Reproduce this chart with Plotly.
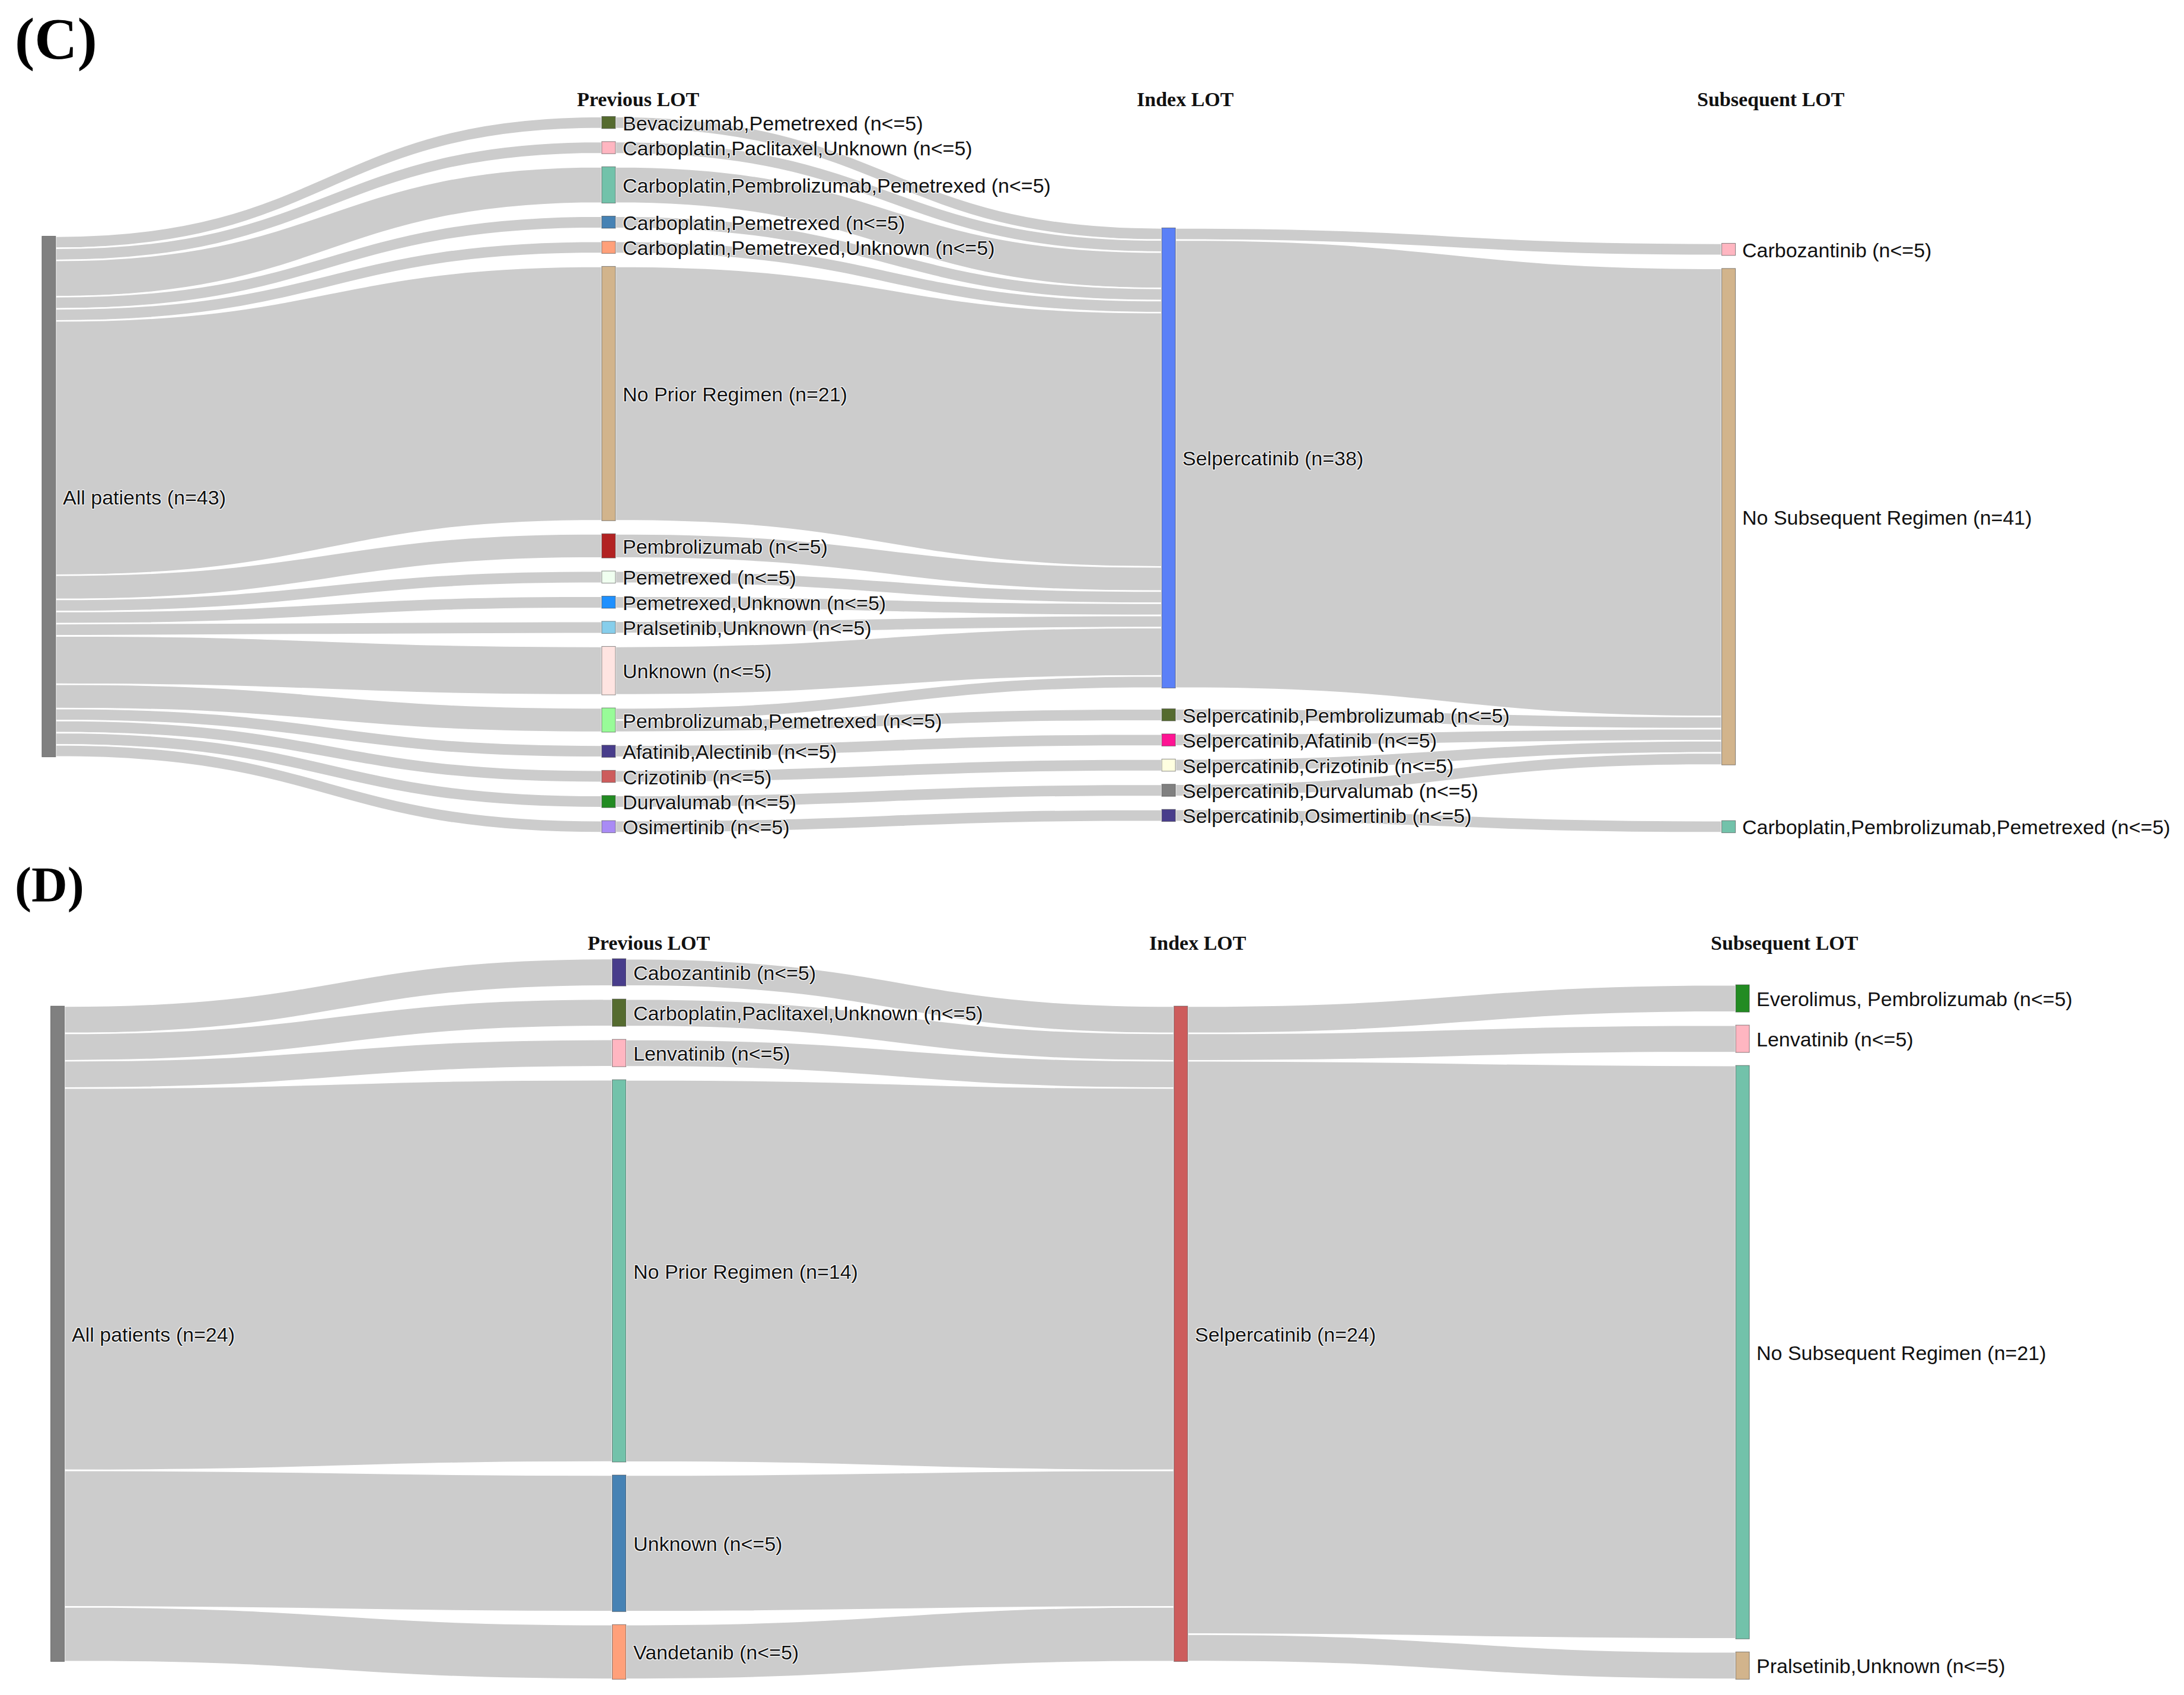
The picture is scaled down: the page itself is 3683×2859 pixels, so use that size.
import plotly.graph_objects as go

# ---------------- Panel C data ----------------
c_labels = [
    "All patients (n=43)",
    "Bevacizumab,Pemetrexed (n<=5)",
    "Carboplatin,Paclitaxel,Unknown (n<=5)",
    "Carboplatin,Pembrolizumab,Pemetrexed (n<=5)",
    "Carboplatin,Pemetrexed (n<=5)",
    "Carboplatin,Pemetrexed,Unknown (n<=5)",
    "No Prior Regimen (n=21)",
    "Pembrolizumab (n<=5)",
    "Pemetrexed (n<=5)",
    "Pemetrexed,Unknown (n<=5)",
    "Pralsetinib,Unknown (n<=5)",
    "Unknown (n<=5)",
    "Pembrolizumab,Pemetrexed (n<=5)",
    "Afatinib,Alectinib (n<=5)",
    "Crizotinib (n<=5)",
    "Durvalumab (n<=5)",
    "Osimertinib (n<=5)",
    "Selpercatinib (n=38)",
    "Selpercatinib,Pembrolizumab (n<=5)",
    "Selpercatinib,Afatinib (n<=5)",
    "Selpercatinib,Crizotinib (n<=5)",
    "Selpercatinib,Durvalumab (n<=5)",
    "Selpercatinib,Osimertinib (n<=5)",
    "Carbozantinib (n<=5)",
    "No Subsequent Regimen (n=41)",
    "Carboplatin,Pembrolizumab,Pemetrexed (n<=5)",
]
c_values = [43, 1, 1, 3, 1, 1, 21, 2, 1, 1, 1, 4, 2, 1, 1, 1, 1,
            38, 1, 1, 1, 1, 1, 1, 41, 1]
c_colors = [
    "#808080",
    "#556B2F", "#FFB6C1", "#72C2AA", "#4682B4", "#FFA07A", "#D2B48C",
    "#B22222", "#F0FFF0", "#1E90FF", "#87CEEB", "#FFE4E1", "#98FB98",
    "#483D8B", "#CD5C5C", "#228B22", "#A98BF5",
    "#5B80F7", "#556B2F", "#FF1493", "#FFFFE0", "#808080", "#483D8B",
    "#FFB6C1", "#D2B48C", "#72C2AA",
]
c_source = [0] * 16 + list(range(1, 12)) + [12, 12, 13, 14, 15, 16] + [17, 17, 18, 19, 20, 21, 22]
c_target = list(range(1, 17)) + [17] * 11 + [17, 18, 19, 20, 21, 22] + [23, 24, 24, 24, 24, 24, 25]
c_value = ([1, 1, 3, 1, 1, 21, 2, 1, 1, 1, 4, 2, 1, 1, 1, 1]
           + [1, 1, 3, 1, 1, 21, 2, 1, 1, 1, 4]
           + [1, 1, 1, 1, 1, 1]
           + [1, 37, 1, 1, 1, 1, 1])

# ---------------- Panel D data ----------------
d_labels = [
    "All patients (n=24)",
    "Cabozantinib (n<=5)",
    "Carboplatin,Paclitaxel,Unknown (n<=5)",
    "Lenvatinib (n<=5)",
    "No Prior Regimen (n=14)",
    "Unknown (n<=5)",
    "Vandetanib (n<=5)",
    "Selpercatinib (n=24)",
    "Everolimus, Pembrolizumab (n<=5)",
    "Lenvatinib (n<=5)",
    "No Subsequent Regimen (n=21)",
    "Pralsetinib,Unknown (n<=5)",
]
d_values = [24, 1, 1, 1, 14, 5, 2, 24, 1, 1, 21, 1]
d_colors = [
    "#808080",
    "#483D8B", "#556B2F", "#FFB6C1", "#72C2AA", "#4682B4", "#FFA07A",
    "#CD5C5C",
    "#228B22", "#FFB6C1", "#72C2AA", "#D2B48C",
]
d_source = [0] * 6 + list(range(1, 7)) + [7] * 4
d_target = list(range(1, 7)) + [7] * 6 + [8, 9, 10, 11]
d_value = [1, 1, 1, 14, 5, 2] + [1, 1, 1, 14, 5, 2] + [1, 1, 21, 1]

column_titles = ["Previous LOT", "Index LOT", "Subsequent LOT"]
panel_titles = ["(C)", "(D)"]

# ---------------- layout parameters ----------------
W, H = 3683, 2859
PAD = 22
THICK = 23
LABEL_GAP = 10
HALO = "1px 1px 1px #fff, 1px -1px 1px #fff, -1px 1px 1px #fff, -1px -1px 1px #fff"
LABEL_FONT = dict(family="Arial, Liberation Sans, sans-serif", size=34, color="#111111",
                  shadow=HALO)
HEAD_FONT = dict(family="Times New Roman, Liberation Serif, serif", size=34, color="#111111")

c_dom = dict(x=[0.0201, 0.7893], y=[0.5115, 0.9341])
d_dom = dict(x=[0.0241, 0.7957], y=[0.0121, 0.4372])

# column groups: (column, node indices, anchor, offset in px from that edge)
c_groups = [(0, [0], "top", 202), (1, list(range(1, 17)), "top", 0),
            (2, [17], "top", 188), (2, list(range(18, 23)), "bottom", 19),
            (3, [23, 24], "top", 214), (3, [25], "bottom", 0)]
d_groups = [(0, [0], "top", 80), (1, list(range(1, 7)), "top", 0),
            (2, [7], "top", 80), (3, list(range(8, 12)), "bottom", 0)]


def positions(values, groups, dom):
    hd = (dom["y"][1] - dom["y"][0]) * H
    cols = sorted(set(g[0] for g in groups))
    ky = min((hd - (sum(len(g[1]) for g in groups if g[0] == c) - 1) * PAD)
             / sum(values[i] for g in groups if g[0] == c for i in g[1]) for c in cols)
    xs = [0.0] * len(values)
    ys = [0.0] * len(values)
    for col, idx, anchor, off in groups:
        hs = [values[i] * ky for i in idx]
        total = sum(hs) + PAD * (len(idx) - 1)
        top = off if anchor == "top" else hd - off - total
        for i, h in zip(idx, hs):
            xs[i] = max(col / 3.0, 1e-4)
            ys[i] = (top + h / 2) / hd
            top += h + PAD
    return xs, ys


ann = []


def make_sankey(labels, values, colors, src, tgt, val, groups, dom):
    xs, ys = positions(values, groups, dom)
    # node labels are written just to the right of each node
    for i, lab in enumerate(labels):
        ann.append(dict(
            text=lab, xref="paper", yref="paper",
            x=dom["x"][0] + (dom["x"][1] - dom["x"][0]) * xs[i] + (THICK / 2 + LABEL_GAP) / W,
            y=dom["y"][1] - ys[i] * (dom["y"][1] - dom["y"][0]) - 1.0 / H,
            xanchor="left", yanchor="middle", showarrow=False, font=LABEL_FONT))
    return go.Sankey(
        domain=dom,
        arrangement="fixed",
        node=dict(label=[""] * len(labels), color=colors, pad=PAD, thickness=THICK, x=xs, y=ys,
                  line=dict(color="rgba(60,60,60,0.6)", width=1),
                  customdata=list(labels), hovertemplate="%{customdata}<extra></extra>"),
        link=dict(source=src, target=tgt, value=val, color="rgba(0,0,0,0.2)",
                  line=dict(color="white", width=2.5)),
    )


fig = go.Figure()
fig.add_trace(make_sankey(c_labels, c_values, c_colors, c_source, c_target, c_value, c_groups, c_dom))
fig.add_trace(make_sankey(d_labels, d_values, d_colors, d_source, d_target, d_value, d_groups, d_dom))

for dom, ytxt, ptitle, ysz, yanc, fsz in [(c_dom, 0.9441, panel_titles[0], 1.0, "top", 100),
                                          (d_dom, 0.4465, panel_titles[1], 0.4805, "middle", 84)]:
    x0, x1 = dom["x"]
    for k, t in enumerate(column_titles):
        ann.append(dict(text="<b>%s</b>" % t, x=x0 + (x1 - x0) * (k + 1) / 3 - 0.0150, y=ytxt,
                        xref="paper", yref="paper", xanchor="left", yanchor="middle",
                        showarrow=False, font=HEAD_FONT))
    ann.append(dict(text="<b>%s</b>" % ptitle, x=0.004, y=ysz, xref="paper", yref="paper",
                    xanchor="left", yanchor=yanc, showarrow=False,
                    font=dict(family="Times New Roman, Liberation Serif, serif",
                              size=fsz, color="black")))

fig.update_layout(width=W, height=H, margin=dict(l=0, r=0, t=0, b=0),
                  paper_bgcolor="white", plot_bgcolor="white", annotations=ann)
fig.write_html("out.html")
